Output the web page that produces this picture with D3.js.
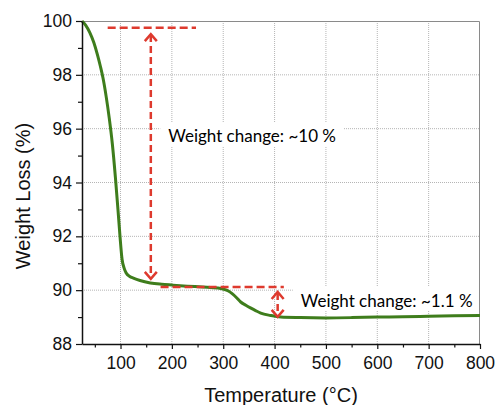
<!DOCTYPE html>
<html>
<head>
<meta charset="utf-8">
<script src="https://cdn.jsdelivr.net/npm/d3@7"></script>
<style>
  body { margin: 0; background: #fff; }
  svg { display: block; }
</style>
</head>
<body>
<div id="chart"></div>
<script>
// layout
var margin = {top: 21, right: 16, bottom: 61, left: 82},
    total_width = 496,
    total_height = 405,
    width = total_width - margin.left - margin.right,
    height = total_height - margin.top - margin.bottom;

// TGA curve
var temps = [25, 32, 40, 48, 55, 61, 66, 72, 78, 84, 90, 95, 99, 103, 107, 111, 118, 125, 138, 158, 180, 200, 230, 260, 290, 300, 310, 318, 326, 334, 344, 353, 363, 373, 392, 412, 450, 500, 550, 600, 650, 700, 750, 800];
var weights = [100, 99.85, 99.58, 99.2, 98.75, 98.3, 97.87, 97.2, 96.4, 95.45, 94.2, 93.0, 92.0, 91.15, 90.82, 90.64, 90.51, 90.45, 90.36, 90.27, 90.22, 90.19, 90.15, 90.12, 90.08, 90.04, 89.97, 89.86, 89.72, 89.56, 89.44, 89.34, 89.24, 89.15, 89.06, 89.0, 88.98, 88.97, 88.98, 89.0, 89.01, 89.03, 89.05, 89.06];

var x_major = [100, 200, 300, 400, 500, 600, 700, 800];
var x_minor = [50, 150, 250, 350, 450, 550, 650, 750];
var y_major = [88, 90, 92, 94, 96, 98, 100];
var y_minor = [89, 91, 93, 95, 97, 99];

// annotations, in data units
var ann_labels = ["Weight change: ~10 %", "Weight change: ~1.1 %"];
var ann_label_t = [193, 451];
var ann_label_w = [95.5, 89.38];
var ann_hlines = [{t0: 75, t1: 247, w: 99.75}, {t0: 178, t1: 418, w: 90.12}];
var ann_arrows = [{t: 159, w0: 99.55, w1: 90.38}, {t: 406, w0: 89.97, w1: 88.97}];

var svg = d3.select("#chart").append("svg")
    .attr("width", total_width)
    .attr("height", total_height);
var g = svg.append("g")
    .attr("transform", "translate(" + margin.left + "," + margin.top + ")");

var x = d3.scaleLinear().domain([25, 800]).range([0, width]);
var y = d3.scaleLinear().domain([88, 100]).range([height, 0]);

// grid
g.append("g").selectAll("line")
    .data(x_major.filter(d => d < 800))
    .enter().append("line")
    .attr("x1", d => x(d)).attr("x2", d => x(d))
    .attr("y1", 0).attr("y2", height)
    .attr("stroke", "#b5b5b5").attr("stroke-width", 1)
    .attr("stroke-dasharray", "1,1");
g.append("g").selectAll("line")
    .data(y_major.filter(d => d > 88 && d < 100))
    .enter().append("line")
    .attr("x1", 0).attr("x2", width)
    .attr("y1", d => y(d)).attr("y2", d => y(d))
    .attr("stroke", "#b5b5b5").attr("stroke-width", 1)
    .attr("stroke-dasharray", "1,1");

// top / right frame
g.append("path")
    .attr("d", "M0,0.5H" + (width - 0.5) + "V" + height)
    .attr("fill", "none")
    .attr("stroke", "#8a8a8a")
    .attr("stroke-width", 1);

// label backgrounds + labels
var labels = g.append("g");
ann_labels.forEach(function(txt, i){
    var bg = labels.append("rect").attr("fill", "#fff");
    var t = labels.append("text")
        .attr("x", x(ann_label_t[i]))
        .attr("y", y(ann_label_w[i]))
        .style("font-family", "Lato, 'Open Sans', sans-serif")
        .style("font-size", "17px")
        .attr("fill", "#000")
        .text(txt);
    var b = t.node().getBBox();
    var x0 = b.x - 8, x1 = Math.min(b.x + b.width + 8, width - 1);
    bg.attr("x", x0).attr("y", b.y - 3)
      .attr("width", x1 - x0).attr("height", b.height + 3);
});

// curve
var data = temps.map((t, i) => ({t: t, w: weights[i]}));
var line = d3.line()
    .x(d => x(d.t))
    .y(d => y(d.w))
    .curve(d3.curveMonotoneX);
g.append("path")
    .datum(data)
    .attr("fill", "none")
    .attr("stroke", "#3e7d1c")
    .attr("stroke-width", 3)
    .attr("stroke-linejoin", "round")
    .attr("d", line);

// red dashed annotations
var red = "#de3a2e";
g.append("g").selectAll("line")
    .data(ann_hlines)
    .enter().append("line")
    .attr("x1", d => x(d.t0)).attr("x2", d => x(d.t1))
    .attr("y1", d => y(d.w)).attr("y2", d => y(d.w))
    .attr("stroke", red).attr("stroke-width", 2.5)
    .attr("stroke-dasharray", "8,4");

var arrows = g.append("g").selectAll("g")
    .data(ann_arrows)
    .enter().append("g");
arrows.append("line")
    .attr("x1", d => x(d.t)).attr("x2", d => x(d.t))
    .attr("y1", d => y(d.w0) + 2).attr("y2", d => y(d.w1) - 2)
    .attr("stroke", red).attr("stroke-width", 2.5)
    .attr("stroke-dasharray", "7,4");
arrows.append("path")
    .attr("d", d => "M" + (x(d.t) - 6) + "," + (y(d.w0) + 8) + "L" + x(d.t) + "," + (y(d.w0) + 1) + "L" + (x(d.t) + 6) + "," + (y(d.w0) + 8))
    .attr("fill", "none").attr("stroke", red).attr("stroke-width", 2.5);
arrows.append("path")
    .attr("d", d => "M" + (x(d.t) - 6) + "," + (y(d.w1) - 8) + "L" + x(d.t) + "," + (y(d.w1) - 1) + "L" + (x(d.t) + 6) + "," + (y(d.w1) - 8))
    .attr("fill", "none").attr("stroke", red).attr("stroke-width", 2.5);

// axes
var font = "'Liberation Sans', Arial, sans-serif";
g.append("g")
    .attr("transform", "translate(0," + height + ")")
    .call(d3.axisBottom(x).tickValues(x_major).tickSize(5).tickPadding(7.6).tickSizeOuter(0));
g.append("g")
    .attr("transform", "translate(0," + height + ")")
    .call(d3.axisBottom(x).tickValues(x_minor).tickSize(3.5).tickFormat("").tickSizeOuter(0))
    .select(".domain").remove();
g.append("g")
    .call(d3.axisLeft(y).tickValues(y_major).tickSize(6).tickPadding(4).tickSizeOuter(0));
g.append("g")
    .call(d3.axisLeft(y).tickValues(y_minor).tickSize(4).tickFormat("").tickSizeOuter(0))
    .select(".domain").remove();

g.selectAll(".domain").attr("stroke", "#111").attr("stroke-width", 1.5);
g.selectAll(".tick line").attr("stroke", "#111").attr("stroke-width", 1.2);
g.selectAll(".tick text")
    .style("font-family", font)
    .style("font-size", "17.5px")
    .attr("fill", "#111");

// axis titles
svg.append("text")
    .attr("x", margin.left + width / 2)
    .attr("y", 402)
    .attr("text-anchor", "middle")
    .style("font-family", font)
    .style("font-size", "20px")
    .attr("fill", "#111")
    .text("Temperature (°C)");
svg.append("text")
    .attr("transform", "translate(30,196) rotate(-90)")
    .attr("text-anchor", "middle")
    .style("font-family", font)
    .style("font-size", "20px")
    .attr("fill", "#111")
    .text("Weight Loss (%)");
</script>
</body>
</html>
